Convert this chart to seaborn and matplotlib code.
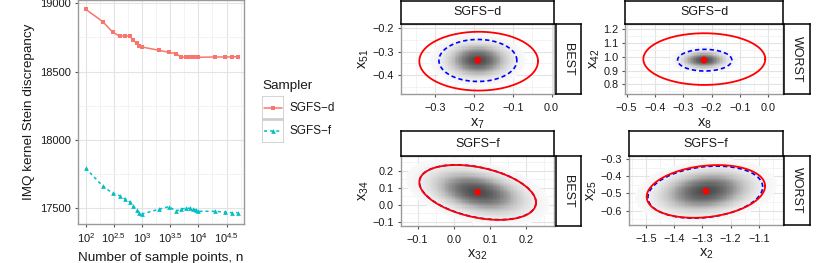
import numpy as np
import pandas as pd
import matplotlib
matplotlib.use("Agg")
import matplotlib.pyplot as plt
import seaborn as sns
from matplotlib.patches import Rectangle
from matplotlib.ticker import FixedLocator, FixedFormatter, NullFormatter

# ---------------- data ----------------
n_points = [100, 200, 300, 400, 500, 600, 700, 800, 900, 1000,
            2000, 3000, 4000, 5000, 6000, 7000, 8000, 9000, 10000,
            20000, 30000, 40000, 50000]
ksd_sgfs_d = [18956, 18866, 18790, 18759, 18763, 18759, 18732, 18707, 18688, 18680,
              18656, 18641, 18632, 18605, 18607, 18610, 18605, 18605, 18605,
              18607, 18607, 18607, 18610]
ksd_sgfs_f = [17793, 17663, 17610, 17592, 17568, 17548, 17517, 17488, 17463, 17458,
              17493, 17512, 17480, 17495, 17500, 17500, 17495, 17488, 17478,
              17478, 17471, 17468, 17468]
samplers = ["SGFS\u2212d", "SGFS\u2212f"]
sampler_colors = ["#F8766D", "#00BFC4"]

x_tick_exps = [2, 2.5, 3, 3.5, 4, 4.5]
x_tick_labels = [r"$10^{2}$", r"$10^{2.5}$", r"$10^{3}$", r"$10^{3.5}$", r"$10^{4}$", r"$10^{4.5}$"]
y_ticks_left = [17500, 18000, 18500, 19000]

# facet panels
panel_sampler = ["SGFS\u2212d", "SGFS\u2212d", "SGFS\u2212f", "SGFS\u2212f"]
panel_case = ["BEST", "WORST", "BEST", "WORST"]
panel_xlab = ["7", "8", "32", "2"]
panel_ylab = ["51", "42", "34", "25"]
mean_x = [-0.190, -0.227, 0.066, -1.288]
mean_y = [-0.337, 0.976, 0.074, -0.4865]
# ellipse (center x, center y, var x, var y, cov xy)
red_ell = [(-0.188, -0.341, 0.02341, 0.01588, 0.0),
           (-0.226, 0.983, 0.04635, 0.03534, 0.0),
           (0.066, 0.072, 0.02605, 0.02596, -0.0096),
           (-1.288, -0.488, 0.04386, 0.02372, 0.00653)]
blue_ell = [(-0.190, -0.338, 0.0101, 0.0081, 0.0),
            (-0.2245, 0.975, 0.0092, 0.00621, 0.0),
            (0.066, 0.073, 0.0260, 0.0259, -0.0096),
            (-1.290, -0.492, 0.0412, 0.0231, 0.0062)]
panel_xlim = [(-0.389, 0.007), (-0.505, 0.053), (-0.147, 0.278), (-1.560, -1.014)]
panel_ylim = [(-0.483, -0.183), (0.727, 1.236), (-0.125, 0.286), (-0.684, -0.281)]
panel_xticks = [[-0.3, -0.2, -0.1, 0.0], [-0.5, -0.4, -0.3, -0.2, -0.1, 0.0],
                [-0.1, 0.0, 0.1, 0.2], [-1.5, -1.4, -1.3, -1.2, -1.1]]
panel_yticks = [[-0.4, -0.3, -0.2], [0.8, 0.9, 1.0, 1.1, 1.2],
                [-0.1, 0.0, 0.1, 0.2], [-0.6, -0.5, -0.4, -0.3]]

# ---------------- style ----------------
sns.set_theme(style="white")
plt.rcParams["font.family"] = ["Liberation Sans", "DejaVu Sans"]
plt.rcParams["mathtext.fontset"] = "custom"
plt.rcParams["mathtext.rm"] = "Liberation Sans"
plt.rcParams["mathtext.it"] = "Liberation Sans"
plt.rcParams["mathtext.default"] = "regular"

W, H = 830, 263
fig = plt.figure(figsize=(W / 100, H / 100), dpi=100)
fig.patch.set_facecolor("white")


def rect(x0, y0, x1, y1):
    return [x0 / W, 1 - y1 / H, (x1 - x0) / W, (y1 - y0) / H]


TXT = "#1a1a1a"
GRID_MAJ = "#E3E3E3"
GRID_MIN = "#F1F1F1"
BORDER = "#9a9a9a"


def style_panel(ax):
    for s in ax.spines.values():
        s.set_color(BORDER)
        s.set_linewidth(1.0)
    ax.set_facecolor("white")
    ax.grid(True, which="major", color=GRID_MAJ, lw=0.8)
    ax.grid(True, which="minor", color=GRID_MIN, lw=0.6)
    ax.set_axisbelow(True)
    ax.tick_params(which="major", direction="out", length=2.5, width=0.8, color="#555555",
                   labelcolor=TXT, pad=2.5, bottom=True, left=True)
    ax.tick_params(which="minor", length=0)


# ---------------- left line chart ----------------
df = pd.DataFrame({
    "n": n_points * 2,
    "ksd": ksd_sgfs_d + ksd_sgfs_f,
    "Sampler": [samplers[0]] * len(n_points) + [samplers[1]] * len(n_points),
})
ax = fig.add_axes(rect(78, 0, 244, 224))
sns.lineplot(data=df, x="n", y="ksd", hue="Sampler", style="Sampler",
             palette=dict(zip(samplers, sampler_colors)),
             markers={samplers[0]: "s", samplers[1]: "^"},
             dashes={samplers[0]: "", samplers[1]: (2, 2)},
             markersize=3.4, markeredgewidth=0, lw=1.1, legend=False, ax=ax)
ax.set_xscale("log")
ax.set_xlim(10 ** 1.863, 10 ** 4.81)
ax.set_ylim(17385, 19024)
ax.xaxis.set_major_locator(FixedLocator([10 ** e for e in x_tick_exps]))
ax.xaxis.set_major_formatter(FixedFormatter(x_tick_labels))
ax.xaxis.set_minor_locator(FixedLocator([10 ** (e + 0.25) for e in x_tick_exps]))
ax.xaxis.set_minor_formatter(NullFormatter())
ax.yaxis.set_major_locator(FixedLocator(y_ticks_left))
ax.yaxis.set_major_formatter(FixedFormatter([str(v) for v in y_ticks_left]))
ax.yaxis.set_minor_locator(FixedLocator([v + 250 for v in [17250] + y_ticks_left]))
style_panel(ax)
ax.tick_params(labelsize=8)
ax.tick_params(axis="x", pad=3)
ax.set_xlabel("Number of sample points, n", fontsize=9.7, color=TXT, labelpad=5)
ax.set_ylabel("IMQ kernel Stein discrepancy", fontsize=9.7, color=TXT, labelpad=4)

# manual legend
fig.text(262 / W, 1 - 86 / H, "Sampler", fontsize=9.7, color=TXT, va="center", ha="left")
lax = fig.add_axes(rect(261.7, 96, 284.3, 143))
lax.set_xlim(0, 1)
lax.set_ylim(0, 2)
lax.axis("off")
for i, (lab, col) in enumerate(zip(samplers, sampler_colors)):
    yc = 1.5 - i
    lax.add_patch(Rectangle((0.03, yc - 0.5 + 0.02), 0.94, 0.96, fill=False,
                            edgecolor="#CCCCCC", lw=1.2))
    lax.plot([0.1, 0.9], [yc, yc], color=col, lw=1.1,
             ls="-" if i == 0 else (0, (2, 2)))
    lax.plot([0.5], [yc], marker="s" if i == 0 else "^", color=col, ms=3.4, mew=0)
    fig.text(289 / W, 1 - (108 + 23 * i) / H, lab, fontsize=8.5, color=TXT,
             va="center", ha="left")

# ---------------- facet panels ----------------
panel_px = [(400.7, 24.3, 554.3, 94.3), (625.3, 24.3, 783.3, 94.3),
            (400.7, 156, 554.3, 226), (629, 156, 783.3, 225)]
right_strip_x = [(556.3, 580.7), (784.3, 810), (556.3, 580.7), (784.3, 810)]
top_strip_y = [(0.5, 24.3), (0.5, 24.3), (131.3, 156), (131.3, 156)]


def ellipse_pts(cx, cy, vx, vy, cxy, k=1.0):
    L = np.linalg.cholesky(np.array([[vx, cxy], [cxy, vy]]))
    t = np.linspace(0, 2 * np.pi, 240)
    p = L @ np.vstack([np.cos(t), np.sin(t)]) * k
    return cx + p[0], cy + p[1]


for i in range(4):
    x0, y0, x1, y1 = panel_px[i]
    pax = fig.add_axes(rect(x0, y0, x1, y1))
    pax.set_xlim(*panel_xlim[i])
    pax.set_ylim(*panel_ylim[i])
    xt, yt = panel_xticks[i], panel_yticks[i]
    pax.xaxis.set_major_locator(FixedLocator(xt))
    pax.xaxis.set_major_formatter(FixedFormatter([f"{v:.1f}".replace("-", "\u2212") for v in xt]))
    pax.yaxis.set_major_locator(FixedLocator(yt))
    pax.yaxis.set_major_formatter(FixedFormatter([f"{v:.1f}".replace("-", "\u2212") for v in yt]))
    dx, dy = xt[1] - xt[0], yt[1] - yt[0]
    pax.xaxis.set_minor_locator(FixedLocator([xt[0] - dx / 2] + [v + dx / 2 for v in xt]))
    pax.yaxis.set_minor_locator(FixedLocator([yt[0] - dy / 2] + [v + dy / 2 for v in yt]))
    style_panel(pax)
    pax.tick_params(labelsize=7.8)
    pax.tick_params(axis="x", pad=4)

    # sample density (binned gray background) from blue ellipse covariance
    bx, by, bvx, bvy, bcxy = blue_ell[i]
    cov = np.array([[bvx, bcxy], [bcxy, bvy]]) / 5.99
    ci = np.linalg.inv(cov)
    gx = np.linspace(*panel_xlim[i], 110)
    gy = np.linspace(*panel_ylim[i], 60)
    GX, GY = np.meshgrid(gx, gy)
    DX, DY = GX - mean_x[i], GY - mean_y[i]
    Q = ci[0, 0] * DX ** 2 + 2 * ci[0, 1] * DX * DY + ci[1, 1] * DY ** 2
    Z = np.exp(-0.5 * Q)
    Z = np.ma.masked_less(Z, 0.01)
    pax.pcolormesh(GX, GY, Z ** 0.6, cmap="Greys", vmin=0, vmax=1.3,
                   shading="nearest", zorder=1, rasterized=True)

    ex, ey = ellipse_pts(*blue_ell[i])
    pax.plot(ex, ey, color="#0000FF", lw=1.2, ls=(0, (2.6, 1.8)), zorder=3)
    ex, ey = ellipse_pts(*red_ell[i])
    pax.plot(ex, ey, color="#FF0000", lw=1.3, zorder=4)
    sns.scatterplot(x=[mean_x[i]], y=[mean_y[i]], color="#FF0000", s=24,
                    edgecolor="none", zorder=5, ax=pax)

    pax.set_xlabel(f"$x_{{{panel_xlab[i]}}}$", fontsize=10.5, color=TXT, labelpad=2)
    pax.set_ylabel(f"$x_{{{panel_ylab[i]}}}$", fontsize=10.5, color=TXT, labelpad=1)

    # top strip
    sy0, sy1 = top_strip_y[i]
    sax = fig.add_axes(rect(x0, sy0, x1, sy1))
    sax.set_xticks([]); sax.set_yticks([])
    sax.set_facecolor("white")
    for s in sax.spines.values():
        s.set_color("black"); s.set_linewidth(1.1)
    sax.text(0.5, 0.5, panel_sampler[i], transform=sax.transAxes, ha="center",
             va="center", fontsize=9, color=TXT)
    # right strip
    rx0, rx1 = right_strip_x[i]
    rax = fig.add_axes(rect(rx0, y0, rx1, y1))
    rax.set_xticks([]); rax.set_yticks([])
    rax.set_facecolor("white")
    for s in rax.spines.values():
        s.set_color("black"); s.set_linewidth(1.1)
    rax.text(0.5, 0.5, panel_case[i], transform=rax.transAxes, ha="center",
             va="center", fontsize=9, color=TXT, rotation=-90)

fig.savefig("out.png", dpi=100)
